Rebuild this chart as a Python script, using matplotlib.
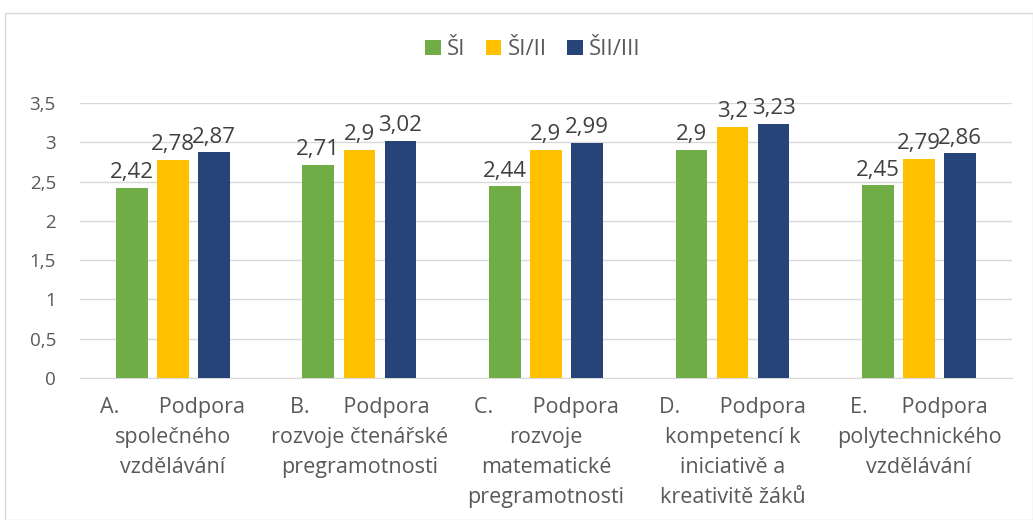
import matplotlib.pyplot as plt
import numpy as np
from matplotlib.patches import Rectangle

categories = [
    "A.       Podpora\nspolečného\nvzdělávání",
    "B.      Podpora\nrozvoje čtenářské\npregramotnosti",
    "C.       Podpora\nrozvoje\nmatematické\npregramotnosti",
    "D.       Podpora\nkompetencí k\niniciativě a\nkreativitě žáků",
    "E.      Podpora\npolytechnického\nvzdělávání",
]
series = ["ŠI", "ŠI/II", "ŠII/III"]
s1 = [2.42, 2.71, 2.44, 2.9, 2.45]
s2 = [2.78, 2.9, 2.9, 3.2, 2.79]
s3 = [2.87, 3.02, 2.99, 3.23, 2.86]
colors = ["#70AD47", "#FFC000", "#264478"]

plt.rcParams['font.family'] = ['Open Sans', 'DejaVu Sans']

fig = plt.figure(figsize=(10.33, 5.2), dpi=100)
ax = fig.add_axes([0.077, 0.273, 0.903, 0.529])

x = np.arange(len(categories))
w = 0.17
step = 0.22
for i, (vals, c, name) in enumerate(zip([s1, s2, s3], colors, series)):
    pos = x + (i - 1) * step
    ax.bar(pos, vals, w, color=c, label=name, zorder=3)
    for p, v in zip(pos, vals):
        ax.text(p, v + 0.06, f"{v:g}".replace(".", ","), ha="center", va="bottom",
                fontsize=16, color="#404040")

ax.set_xlim(-0.5, len(categories) - 0.5)
ax.set_ylim(0, 3.5)
ax.set_yticks(np.arange(0, 3.51, 0.5))
ax.set_yticklabels([f"{t:g}".replace(".", ",") for t in np.arange(0, 3.51, 0.5)],
                   fontsize=13.5, color="#595959")
ax.set_xticks(x)
ax.set_xticklabels(categories, fontsize=15.5, color="#595959", linespacing=1.55)
ax.tick_params(axis="x", length=0, pad=14)
ax.tick_params(axis="y", length=0, pad=17)
ax.grid(axis="y", color="#D9D9D9", linewidth=1, zorder=0)
for s in ["top", "right", "left"]:
    ax.spines[s].set_visible(False)
ax.spines["bottom"].set_color("#D9D9D9")

ax.legend(loc="center", bbox_to_anchor=((533 - 80) / 932, 1.0 + (103 - 50) / 275), ncol=3,
          frameon=False, fontsize=16, handlelength=0.7, handleheight=0.7, handletextpad=0.3,
          columnspacing=0.9, labelcolor="#595959")

fig.patches.append(Rectangle((0.005, 0.0), 0.995, 0.975, transform=fig.transFigure,
                             fill=False, edgecolor="#D9D9D9", linewidth=1))

fig.savefig("out.png", dpi=100)
